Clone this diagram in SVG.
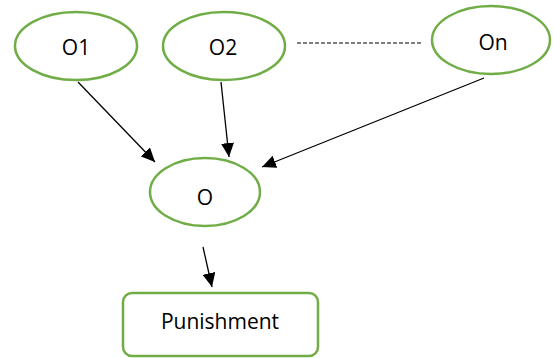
<svg xmlns="http://www.w3.org/2000/svg" width="553" height="358" viewBox="0 0 553 358">
<style>
.n{fill:#fff;stroke:#70AD47;stroke-width:2.5}
.t{font-family:"Open Sans","Liberation Sans",sans-serif;font-size:21px;fill:#000;text-anchor:middle}
.c{stroke:#000;stroke-width:1.3;fill:none}
</style>
<defs>
<marker id="ah" viewBox="0 0 10 10" refX="10" refY="5" markerWidth="14" markerHeight="13" markerUnits="userSpaceOnUse" orient="auto" preserveAspectRatio="none">
<path d="M0,0 L10,5 L0,10 z" fill="#000"/>
</marker>
</defs>
<rect width="553" height="358" fill="#fff"/>
<g id="connectors">
<line class="c" x1="78" y1="82" x2="155" y2="162" marker-end="url(#ah)"/>
<line class="c" x1="221" y1="82" x2="229" y2="157" marker-end="url(#ah)"/>
<line class="c" x1="484" y1="78" x2="262" y2="167" marker-end="url(#ah)"/>
<line class="c" x1="203" y1="247" x2="212" y2="287" marker-end="url(#ah)"/>
<line x1="297" y1="43" x2="423" y2="43" stroke="#000" stroke-width="1" stroke-dasharray="4,2"/>
</g>
<g id="O1"><ellipse class="n" cx="76" cy="46" rx="61" ry="34"/><text class="t" x="76" y="55">O1</text></g>
<g id="O2"><ellipse class="n" cx="224" cy="46" rx="61" ry="34"/><text class="t" x="223" y="55">O2</text></g>
<g id="On"><ellipse class="n" cx="491" cy="40" rx="59" ry="34"/><text class="t" x="493" y="50">On</text></g>
<g id="O"><ellipse class="n" cx="205" cy="192" rx="55" ry="34"/><text class="t" x="205" y="205">O</text></g>
<g id="Punishment"><rect class="n" x="123" y="293" width="195" height="63" rx="9"/><text class="t" x="220" y="329">Punishment</text></g>
</svg>
